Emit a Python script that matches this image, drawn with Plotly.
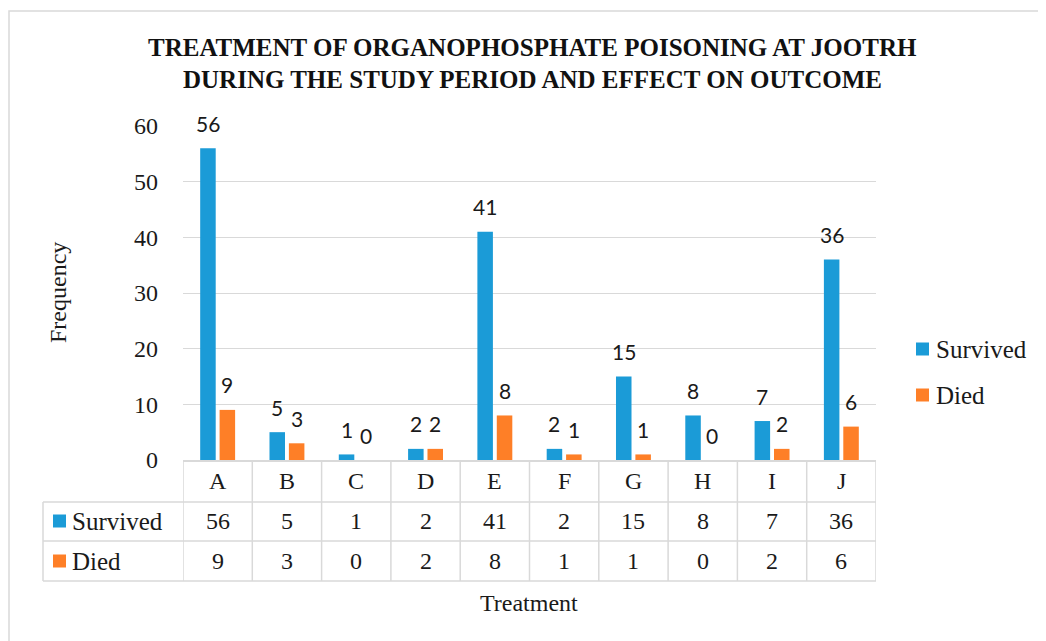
import plotly.graph_objects as go

# ---------------- data ----------------
categories = ["A", "B", "C", "D", "E", "F", "G", "H", "I", "J"]
survived = [56, 5, 1, 2, 41, 2, 15, 8, 7, 36]
died = [9, 3, 0, 2, 8, 1, 1, 0, 2, 6]
series_names = ["Survived", "Died"]
y_ticks = [0, 10, 20, 30, 40, 50, 60]
title_lines = ["TREATMENT OF ORGANOPHOSPHATE POISONING AT JOOTRH",
               "DURING THE STUDY PERIOD AND EFFECT ON OUTCOME"]
x_title = "Treatment"
y_title = "Frequency"

# ---------------- style ----------------
BLUE = "#1b9bd7"
ORANGE = "#fe7f27"
GRID = "#d9d9d9"
TXT = "#1a1a1a"
SERIF = "Liberation Serif"
SANS = "Lato"
OFF = 8  # default page body margin
W, H = 1046 - OFF, 641 - OFF
L, R, T, B = 183, 876, 126, 460  # plot area in page pixels


def px_x(px):
    return (px - L) / (R - L)


def px_y(py):
    return (B - py) / (B - T)


fig = go.Figure()
colors = [BLUE, ORANGE]
values = [survived, died]
for name, vals, col in zip(series_names, values, colors):
    fig.add_trace(go.Bar(x=categories, y=vals, name=name,
                         marker=dict(color=col, line=dict(width=0)),
                         showlegend=False, hoverinfo="x+y+name"))

bargap = 0.44
bargroupgap = 0.2
slot = (1 - bargap) / 2  # in category units
offsets = [-slot / 2, slot / 2]
cat_px = (R - L) / len(categories)

annotations = []
shapes = []

# data labels above the bars
for vals, off in zip(values, offsets):
    for c, v in zip(categories, vals):
        annotations.append(dict(x=c, y=v, xref="x", yref="y", text=str(v),
                                showarrow=False, xshift=off * cat_px, yshift=25,
                                yanchor="middle", xanchor="center",
                                font=dict(family=SANS, size=21, color=TXT)))

# title
for i, line in enumerate(title_lines):
    annotations.append(dict(x=px_x(532), y=px_y(47 + 33 * i), xref="paper", yref="paper",
                            text="<b>%s</b>" % line, showarrow=False,
                            xanchor="center", yanchor="middle",
                            font=dict(family=SERIF, size=25, color="#111111")))

# axis titles
annotations.append(dict(x=px_x(58), y=px_y(293), xref="paper", yref="paper", text=y_title,
                        textangle=-90, showarrow=False, xanchor="center", yanchor="middle",
                        font=dict(family=SERIF, size=24, color=TXT)))
annotations.append(dict(x=px_x(529), y=px_y(603), xref="paper", yref="paper", text=x_title,
                        showarrow=False, xanchor="center", yanchor="middle",
                        font=dict(family=SERIF, size=24, color=TXT)))

# data table
row_y = [481, 521, 561]
for c in categories:
    annotations.append(dict(x=c, y=px_y(row_y[0]), xref="x", yref="paper", text=c,
                            showarrow=False, xanchor="center", yanchor="middle",
                            font=dict(family=SERIF, size=24, color=TXT)))
for r, vals in enumerate(values):
    for c, v in zip(categories, vals):
        annotations.append(dict(x=c, y=px_y(row_y[r + 1]), xref="x", yref="paper", text=str(v),
                                showarrow=False, xanchor="center", yanchor="middle",
                                font=dict(family=SERIF, size=24, color=TXT)))

# table row headers with legend keys
for r, (name, col) in enumerate(zip(series_names, colors)):
    cy = row_y[r + 1]
    shapes.append(dict(type="rect", xref="paper", yref="paper",
                       x0=px_x(53), x1=px_x(66), y0=px_y(cy - 6.5), y1=px_y(cy + 6.5),
                       fillcolor=col, line=dict(width=0)))
    annotations.append(dict(x=px_x(70), y=px_y(cy), xref="paper", yref="paper", text=name,
                            showarrow=False, xanchor="left", yanchor="middle",
                            font=dict(family=SERIF, size=25, color=TXT)))

# right legend
leg_y = [349, 395]
for name, col, cy in zip(series_names, colors, leg_y):
    shapes.append(dict(type="rect", xref="paper", yref="paper",
                       x0=px_x(916), x1=px_x(929), y0=px_y(cy - 6.5), y1=px_y(cy + 6.5),
                       fillcolor=col, line=dict(width=0)))
    annotations.append(dict(x=px_x(934), y=px_y(cy), xref="paper", yref="paper", text=name,
                            showarrow=False, xanchor="left", yanchor="middle",
                            font=dict(family=SERIF, size=25, color=TXT)))

# table grid lines
tline = dict(color=GRID, width=1.5)
for py in [502, 541, 581]:
    shapes.append(dict(type="line", xref="paper", yref="paper",
                       x0=px_x(43), x1=1, y0=px_y(py), y1=px_y(py), line=tline))
shapes.append(dict(type="line", xref="paper", yref="paper",
                   x0=px_x(43), x1=px_x(43), y0=px_y(502), y1=px_y(581), line=tline))
for k in range(len(categories) + 1):
    shapes.append(dict(type="line", xref="x", yref="paper",
                       x0=k - 0.5, x1=k - 0.5, y0=0, y1=px_y(581), line=tline))

# outer chart border
shapes.append(dict(type="rect", xref="paper", yref="paper",
                   x0=px_x(9), x1=px_x(1070), y0=px_y(11), y1=px_y(670),
                   line=dict(color=GRID, width=1.5), fillcolor="rgba(0,0,0,0)"))

fig.update_layout(
    width=W, height=H,
    margin=dict(l=L - OFF, r=(W + OFF) - R, t=T - OFF, b=(H + OFF) - B, pad=0),
    paper_bgcolor="white", plot_bgcolor="white",
    barmode="group", bargap=bargap, bargroupgap=bargroupgap,
    annotations=annotations, shapes=shapes,
    xaxis=dict(showticklabels=False, showgrid=False, zeroline=False,
               showline=True, linecolor=GRID, linewidth=1.5, ticks="",
               range=[-0.5, len(categories) - 0.5]),
    yaxis=dict(range=[0, 60], tickvals=y_ticks, showgrid=True, gridcolor=GRID, gridwidth=1,
               zeroline=False, showline=False, ticks="", ticklabelstandoff=24,
               tickfont=dict(family=SERIF, size=24, color=TXT)),
)

fig.write_html("out.html")
